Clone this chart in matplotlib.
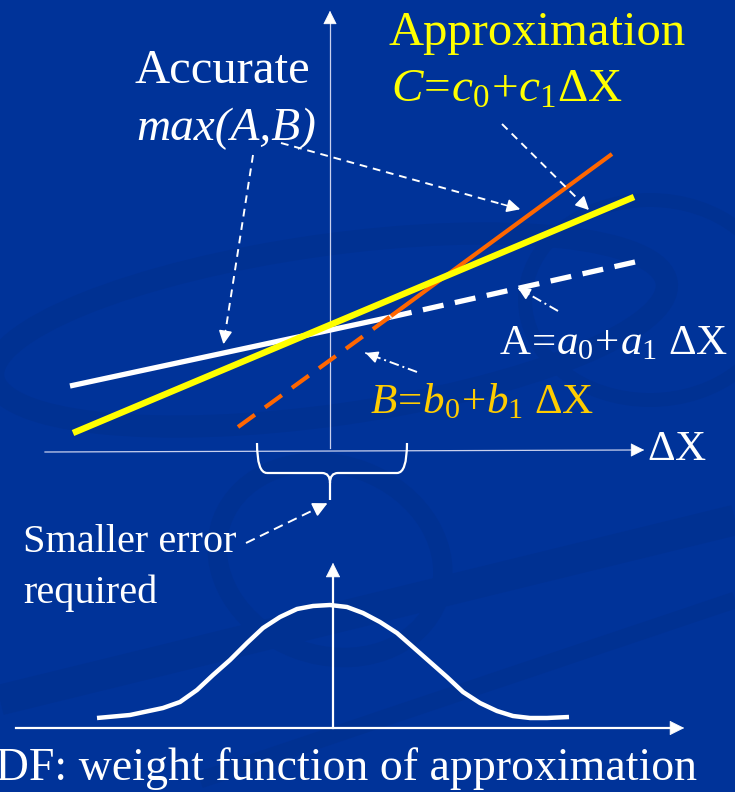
import matplotlib
matplotlib.use("Agg")
import matplotlib.pyplot as plt
from matplotlib.patches import Ellipse, FancyArrowPatch, PathPatch
from matplotlib.path import Path

plt.rcParams['font.family'] = ['Liberation Serif', 'DejaVu Serif']
plt.rcParams['mathtext.fontset'] = 'custom'
plt.rcParams['mathtext.rm'] = 'Liberation Serif'
plt.rcParams['mathtext.it'] = 'Liberation Serif:italic'

BG = '#003399'
SWIRL = '#003192'
YELLOW = '#ffff00'
ORANGE = '#ff6600'
GOLD = '#ffcc00'

# --- data (pixel space of the slide, y grows downward) ---
# line A (white): solid up to the A/B crossing, dashed after
a_x = [70, 391, 635]
a_y = [386, 317, 262]
# line B (orange): dashed up to the crossing, solid after
b_x = [238, 391, 612]
b_y = [427, 316, 154]
# approximation C (yellow)
c_x = [73, 634]
c_y = [433, 197]

# weight function (PDF)
pdf_x = [97, 130, 163, 180, 197, 213, 230, 247, 263, 280, 297, 313, 330,
         347, 363, 380, 397, 413, 430, 447, 463, 480, 497, 513, 530, 547, 569]
pdf_y = [718, 715, 708, 702, 690, 675, 660, 643, 628, 617, 609, 606, 605,
         607, 613, 622, 633, 647, 662, 677, 692, 703, 711, 716, 718, 718, 717]

# axes of the two panels
top_origin = (330, 451)
top_xaxis = (45, 647)
top_yaxis = (448, 8)
low_xaxis = (16, 687, 728)
low_yaxis = (333, 728, 560)

# brace under the top axis
brace_left, brace_right, brace_top, brace_mid, brace_tip = 257, 407, 443, 473, 500

fig = plt.figure(figsize=(7.35, 7.92), dpi=100)
fig.patch.set_facecolor(BG)
ax = fig.add_axes([0, 0, 1, 1])
ax.set_facecolor(BG)
ax.set_xlim(0, 735)
ax.set_ylim(792, 0)
ax.axis('off')

# --- background swirls (faint) ---
ax.add_patch(Ellipse((330, 330), 680, 170, angle=-8, fill=False, ec=SWIRL, lw=16, zorder=0))
ax.add_patch(Ellipse((650, 300), 250, 200, angle=0, fill=False, ec=SWIRL, lw=10, zorder=0))
ax.add_patch(Ellipse((330, 560), 230, 190, angle=20, fill=False, ec=SWIRL, lw=14, zorder=0))
ax.plot([0, 735], [700, 520], color=SWIRL, lw=22, zorder=0, solid_capstyle='butt')
ax.plot([200, 735], [780, 600], color=SWIRL, lw=12, zorder=0, solid_capstyle='butt')


def arrow_head(x0, y0, x1, y1, lw=1.2, size=18, color='white'):
    ax.add_patch(FancyArrowPatch((x0, y0), (x1, y1), arrowstyle='-|>',
                                 mutation_scale=size, lw=lw, color=color, zorder=6))


def dashed_arrow(x0, y0, x1, y1, ls=(0, (4, 3)), size=20):
    fx = x0 + (x1 - x0) * 0.9
    fy = y0 + (y1 - y0) * 0.9
    ax.plot([x0, fx], [y0, fy], color='white', lw=1.4, linestyle=ls, zorder=6)
    arrow_head(fx, fy, x1, y1, size=size)


# --- top panel axes ---
ax.plot([top_xaxis[0], top_xaxis[1] - 12], [top_origin[1] + 1, top_origin[1] - 1],
        color='#c8d0ee', lw=0.9, zorder=2)
arrow_head(top_xaxis[1] - 16, top_origin[1] - 1, top_xaxis[1], top_origin[1] - 1,
           lw=0.5, size=22)
ax.plot([top_origin[0], top_origin[0]], [top_yaxis[0], top_yaxis[1] + 12],
        color='#c8d0ee', lw=0.9, zorder=2)
arrow_head(top_origin[0], top_yaxis[1] + 16, top_origin[0], top_yaxis[1], lw=0.5, size=22)

# --- lines ---
ax.plot(c_x, c_y, color=YELLOW, lw=4.6, zorder=4, solid_capstyle='butt')
ax.plot(a_x[:2], a_y[:2], color='white', lw=3.8, zorder=3, solid_capstyle='butt')
ax.plot(a_x[1:], a_y[1:], color='white', lw=3.8, zorder=3, dashes=(4, 2.2))
ax.plot(b_x[:2], b_y[:2], color=ORANGE, lw=3.0, zorder=3, dashes=(5, 3))
ax.plot(b_x[1:], b_y[1:], color=ORANGE, lw=3.0, zorder=3, solid_capstyle='butt')

# --- labels ---
ax.text(222, 83, 'Accurate', color='white', fontsize=35, ha='center', va='baseline')
ax.text(226, 140, 'max(A,B)', color='white', fontsize=34, style='italic',
        ha='center', va='baseline')
ax.text(537, 45, 'Approximation', color=YELLOW, fontsize=35, ha='center', va='baseline')
ax.text(391, 102, r'$C\!=\!c_{\mathit{0}}\!+\!c_{\mathit{1}}\Delta\mathrm{X}$',
        color=YELLOW, fontsize=34, ha='left', va='baseline')
ax.text(728, 354, r'$\mathrm{A}\!=\!a_{\mathit{0}}\!+\!a_{\mathit{1}}\ \Delta\mathrm{X}$',
        color='white', fontsize=31, ha='right', va='baseline')
ax.text(370, 413, r'$B\!=\!b_{\mathit{0}}\!+\!b_{\mathit{1}}\ \Delta\mathrm{X}$',
        color=GOLD, fontsize=31, ha='left', va='baseline')
ax.text(647, 460, r'$\Delta\mathrm{X}$', color='white', fontsize=31, ha='left', va='baseline')

# --- annotation arrows ---
dashed_arrow(253, 155, 223, 347)
dashed_arrow(281, 143, 523, 210)
dashed_arrow(502, 124, 591, 212)
dashed_arrow(558, 311, 518, 288, ls=(0, (5, 2, 1, 2)), size=18)
dashed_arrow(417, 372, 363, 352, ls=(0, (5, 2, 1, 2)), size=18)

# --- brace ---
bm = (brace_left + brace_right) / 2 - 2
verts = [(brace_left, brace_top), (brace_left, brace_mid), (brace_left + 10, brace_mid),
         (brace_left + 10, brace_mid), (bm - 8, brace_mid),
         (bm, brace_mid), (bm, brace_mid + 10), (bm, brace_tip),
         (bm, brace_mid + 10), (bm, brace_mid), (bm + 8, brace_mid),
         (brace_right - 10, brace_mid),
         (brace_right, brace_mid), (brace_right, brace_top)]
codes = [Path.MOVETO, Path.CURVE3, Path.CURVE3, Path.MOVETO, Path.LINETO,
         Path.CURVE3, Path.CURVE3, Path.LINETO,
         Path.MOVETO, Path.CURVE3, Path.CURVE3, Path.LINETO,
         Path.CURVE3, Path.CURVE3]
ax.add_patch(PathPatch(Path(verts, codes), fill=False, ec='white', lw=1.6, zorder=5))

ax.text(23, 552, 'Smaller error', color='white', fontsize=29, ha='left', va='baseline')
ax.text(23, 603, 'required', color='white', fontsize=29, ha='left', va='baseline')
dashed_arrow(246, 543, 330, 502, ls=(0, (5, 3)), size=22)

# --- lower panel ---
ax.plot([low_xaxis[0], low_xaxis[1] - 12], [low_xaxis[2], low_xaxis[2]], color='white',
        lw=1.6, zorder=2)
arrow_head(low_xaxis[1] - 16, low_xaxis[2], low_xaxis[1], low_xaxis[2], lw=0.5, size=24)
ax.plot([low_yaxis[0], low_yaxis[0]], [low_yaxis[1], low_yaxis[2] + 12], color='white',
        lw=1.6, zorder=2)
arrow_head(low_yaxis[0], low_yaxis[2] + 16, low_yaxis[0], low_yaxis[2], lw=0.5, size=24)
ax.plot(pdf_x, pdf_y, color='white', lw=3.2, zorder=3, solid_capstyle='butt',
        solid_joinstyle='round')

# the slide crops the leading "P" of this line at the left edge
ax.text(-30, 780, 'PDF: weight function of approximation', color='white', fontsize=33,
        ha='left', va='baseline')

fig.savefig('out.png', dpi=100, facecolor=BG)
